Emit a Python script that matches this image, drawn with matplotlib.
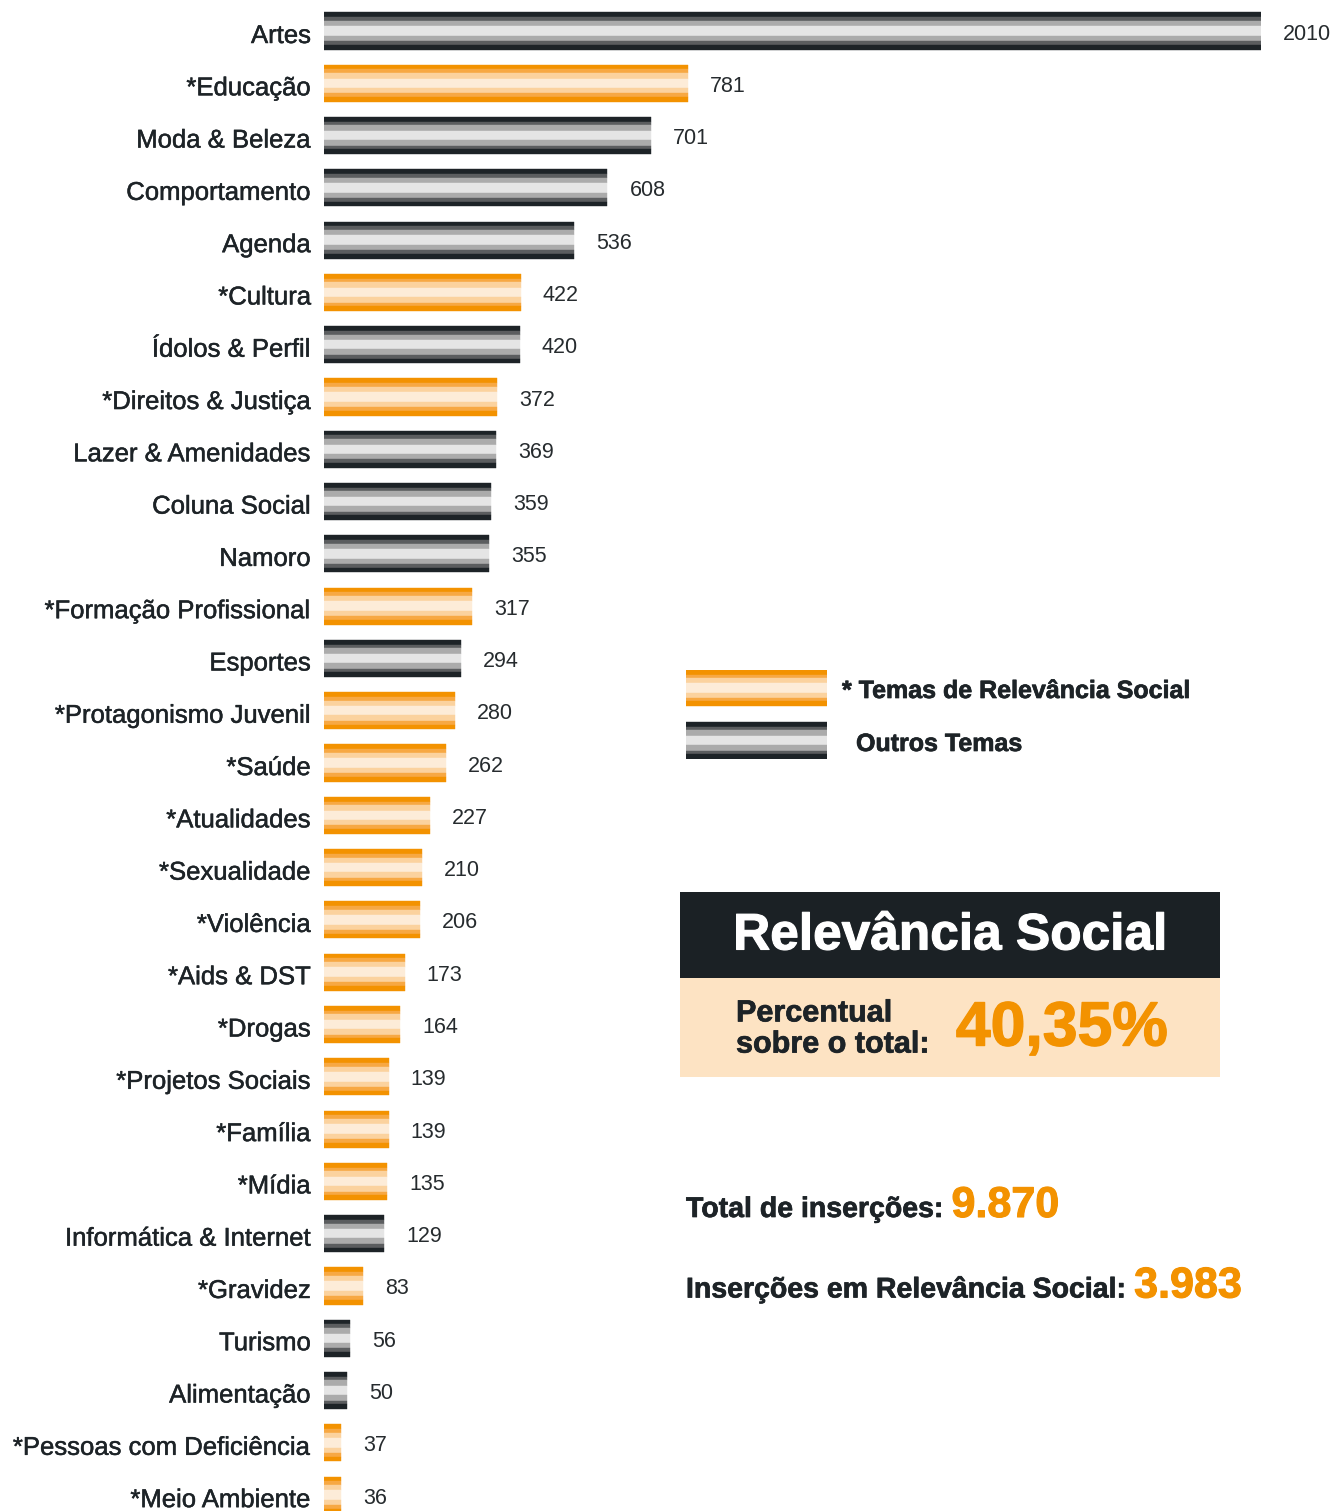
import matplotlib
matplotlib.use("Agg")
import matplotlib.pyplot as plt
from matplotlib.patches import Rectangle
import matplotlib.patheffects as pe

plt.rcParams['font.family'] = ['Liberation Sans', 'DejaVu Sans']

# Data
temas = ["Artes", "*Educação", "Moda & Beleza", "Comportamento", "Agenda",
         "*Cultura", "Ídolos & Perfil", "*Direitos & Justiça", "Lazer & Amenidades",
         "Coluna Social", "Namoro", "*Formação Profissional", "Esportes",
         "*Protagonismo Juvenil", "*Saúde", "*Atualidades", "*Sexualidade",
         "*Violência", "*Aids & DST", "*Drogas", "*Projetos Sociais", "*Família",
         "*Mídia", "Informática & Internet", "*Gravidez", "Turismo", "Alimentação",
         "*Pessoas com Deficiência", "*Meio Ambiente"]
insercoes = [2010, 781, 701, 608, 536, 422, 420, 372, 369, 359, 355, 317, 294,
             280, 262, 227, 210, 206, 173, 164, 139, 139, 135, 129, 83, 56, 50, 37, 36]
total_insercoes = "9.870"
insercoes_social = "3.983"
percentual = "40,35%"

# Stripe styles
stripe_frac = [14, 11, 16, 28, 16, 11, 14]
cores_social = ['#f39200', '#f7a843', '#fbd29e', '#fdecd8', '#fbd29e', '#f7a843', '#f39200']
cores_outros = ['#1d2327', '#5b5d5f', '#ababab', '#e5e5e5', '#ababab', '#5b5d5f', '#1d2327']
DARK = '#1d2327'
ORANGE = '#f39200'

W, H = 1331, 1511
fig = plt.figure(figsize=(W / 100, H / 100), dpi=100)


def grosso(c, lw=0.5):
    # slightly thicker glyphs, closer to the heavy sans of the original
    return [pe.withStroke(linewidth=lw, foreground=c)]


def striped_bar(ax, y, width, height, cores):
    total = sum(stripe_frac)
    top = y - height / 2
    for frac, c in zip(stripe_frac, cores):
        h = height * frac / total
        ax.barh(top + h / 2, width, height=h, left=0, color=c,
                edgecolor=c, linewidth=0.3)
        top += h


# Bars axes: x 0..2010 -> px 324..1261
ax = fig.add_axes([324 / W, 0, 937 / W, 1])
step = 52.29
ax.set_ylim((H - 31) / step, -31 / step)
ax.set_xlim(0, 2010)
ax.axis('off')

for i, (nome, v) in enumerate(zip(temas, insercoes)):
    cores = cores_social if nome.startswith('*') else cores_outros
    striped_bar(ax, i, v, 0.71, cores)
    ax.annotate(str(v), xy=(v, i), xytext=(22, -3), textcoords='offset pixels',
                ha='left', va='center', fontsize=15.5, color='#262b2e', annotation_clip=False)
    ax.annotate(nome, xy=(0, i), xytext=(-13, -5), textcoords='offset pixels',
                ha='right', va='center', fontsize=18.5, color=DARK, annotation_clip=False,
                path_effects=grosso(DARK, 0.35))

# Legend swatches
lax = fig.add_axes([686 / W, 1 - 759 / H, 141 / W, 89 / H])
lax.set_xlim(0, 1)
lax.set_ylim(89, 0)
lax.axis('off')
striped_bar(lax, 18, 1, 36, cores_social)
striped_bar(lax, 70.5, 1, 37, cores_outros)

# Overlay in pixel coordinates
ov = fig.add_axes([0, 0, 1, 1], facecolor='none')
ov.set_xlim(0, W)
ov.set_ylim(H, 0)
ov.axis('off')

ov.text(842, 691, "* Temas de Relevância Social", fontsize=18, fontweight='bold',
        color=DARK, va='center', ha='left', path_effects=grosso(DARK))
ov.text(856, 744, "Outros Temas", fontsize=18, fontweight='bold',
        color=DARK, va='center', ha='left', path_effects=grosso(DARK))

ov.add_patch(Rectangle((680, 892), 540, 86, color='#1b2125', linewidth=0))
ov.add_patch(Rectangle((680, 978), 540, 99, color='#fde3c3', linewidth=0))
ov.text(950, 936, "Relevância Social", fontsize=37, fontweight='bold',
        color='white', ha='center', va='center', path_effects=grosso('white', 0.8))
ov.text(736, 1029, "Percentual\nsobre o total:", fontsize=22, fontweight='bold',
        color=DARK, ha='left', va='center', linespacing=1.05,
        path_effects=grosso(DARK))
ov.text(1168, 1029, percentual, fontsize=45, fontweight='bold',
        color=ORANGE, ha='right', va='center', path_effects=grosso(ORANGE, 1.0))

t1 = ov.text(686, 1210, "Total de inserções: ", fontsize=20.5, fontweight='bold',
             color=DARK, ha='left', va='center', path_effects=grosso(DARK))
ov.annotate(total_insercoes, xy=(1, 0), xycoords=t1, xytext=(0, -3),
            textcoords='offset pixels', fontsize=31, fontweight='bold',
            color=ORANGE, ha='left', va='bottom', path_effects=grosso(ORANGE, 0.8))
t2 = ov.text(686, 1290, "Inserções em Relevância Social: ", fontsize=20.5, fontweight='bold',
             color=DARK, ha='left', va='center', path_effects=grosso(DARK))
ov.annotate(insercoes_social, xy=(1, 0), xycoords=t2, xytext=(0, -3),
            textcoords='offset pixels', fontsize=31, fontweight='bold',
            color=ORANGE, ha='left', va='bottom', path_effects=grosso(ORANGE, 0.8))

fig.savefig("out.png", dpi=100)
